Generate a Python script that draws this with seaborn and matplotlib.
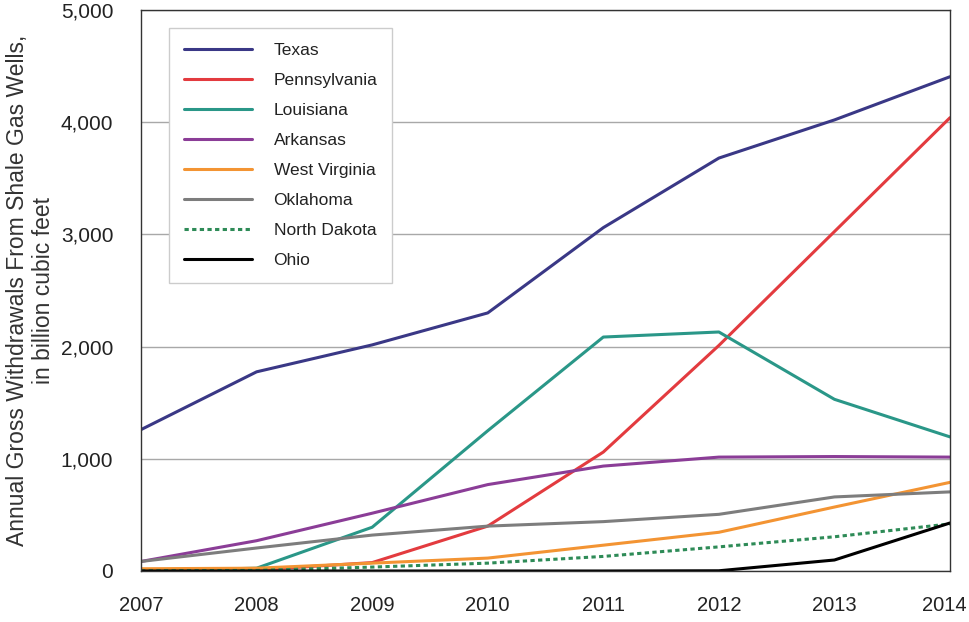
import pandas as pd
import matplotlib.pyplot as plt
import matplotlib.ticker as mticker
import matplotlib.transforms as mtransforms
import seaborn as sns

# ── Data (billion cubic feet) ─────────────────────────────────────────────────
years = [2007, 2008, 2009, 2010, 2011, 2012, 2013, 2014]
states = ["Texas", "Pennsylvania", "Louisiana", "Arkansas",
          "West Virginia", "Oklahoma", "North Dakota", "Ohio"]

texas         = [1260, 1775, 2015, 2300, 3060, 3680, 4020, 4405]
pennsylvania  = [2, 10, 75, 400, 1060, 2010, 3025, 4040]
louisiana     = [2, 25, 390, 1250, 2085, 2130, 1530, 1195]
arkansas      = [85, 270, 515, 770, 935, 1015, 1020, 1015]
west_virginia = [20, 25, 70, 115, 230, 345, 570, 790]
oklahoma      = [85, 205, 320, 400, 440, 505, 660, 705]
north_dakota  = [2, 5, 35, 70, 130, 215, 305, 420]
ohio          = [0, 0, 0, 0, 0, 2, 98, 428]

series = [texas, pennsylvania, louisiana, arkansas,
          west_virginia, oklahoma, north_dakota, ohio]

colors = ["#3a3886", "#e33b3f", "#2a9788", "#8b3d97",
          "#f39433", "#7d7d7d", "#2e8b57", "#000000"]

df = pd.DataFrame(
    [(s, y, v) for s, vals in zip(states, series) for y, v in zip(years, vals)],
    columns=["state", "year", "value"],
)

# ── Style ─────────────────────────────────────────────────────────────────────
sns.set_style("white")
plt.rcParams["font.family"] = ["Liberation Sans", "DejaVu Sans"]

fig = plt.figure(figsize=(9.7, 6.22), dpi=100)
ax = fig.add_axes([0.1454, 0.082, 0.834, 0.902])

dashes = {s: "" for s in states}
dashes["North Dakota"] = (1.4, 1.1)

sns.lineplot(
    data=df, x="year", y="value", hue="state", style="state",
    hue_order=states, style_order=states,
    palette=dict(zip(states, colors)), dashes=dashes,
    linewidth=2.2, ax=ax, legend=True,
)

ax.set_xlim(2007, 2014)
ax.set_ylim(0, 5000)
ax.set_xticks(years)
ax.set_yticks([0, 1000, 2000, 3000, 4000, 5000])
ax.yaxis.set_major_formatter(mticker.FuncFormatter(lambda v, p: f"{int(v):,}"))
ax.grid(axis="y", color="#a8a8a8", linewidth=1.0)
ax.set_axisbelow(True)

for sp in ax.spines.values():
    sp.set_color("#333333")
    sp.set_linewidth(1.0)

ax.tick_params(axis="x", direction="out", length=9, width=1, color="#333333",
               labelsize=14.5, labelcolor="#222222", pad=9)
ax.tick_params(axis="y", direction="in", length=8, width=1, color="#333333",
               labelsize=15, labelcolor="#222222", pad=20)

# nudge the last year label so it stays inside the canvas
last = ax.get_xticklabels()[-1]
last.set_transform(last.get_transform() +
                   mtransforms.ScaledTranslation(-6 / 100, 0, fig.dpi_scale_trans))

ax.set_xlabel("")
ax.set_ylabel("Annual Gross Withdrawals From Shale Gas Wells,\nin billion cubic feet",
              fontsize=16.5, color="#333333", labelpad=4)

handles, labels = ax.get_legend_handles_labels()
leg = ax.legend(
    handles, labels, loc="upper left", bbox_to_anchor=(0.035, 0.968),
    fontsize=12.5, frameon=True, fancybox=False, edgecolor="#cccccc",
    framealpha=1, handlelength=3.9, handletextpad=1.25, labelspacing=0.86,
    borderpad=0.85, borderaxespad=0,
)
for line in leg.get_lines():
    line.set_linewidth(2.2)
for t in leg.get_texts():
    t.set_color("#222222")

fig.savefig("out.png", dpi=100, facecolor="white")
